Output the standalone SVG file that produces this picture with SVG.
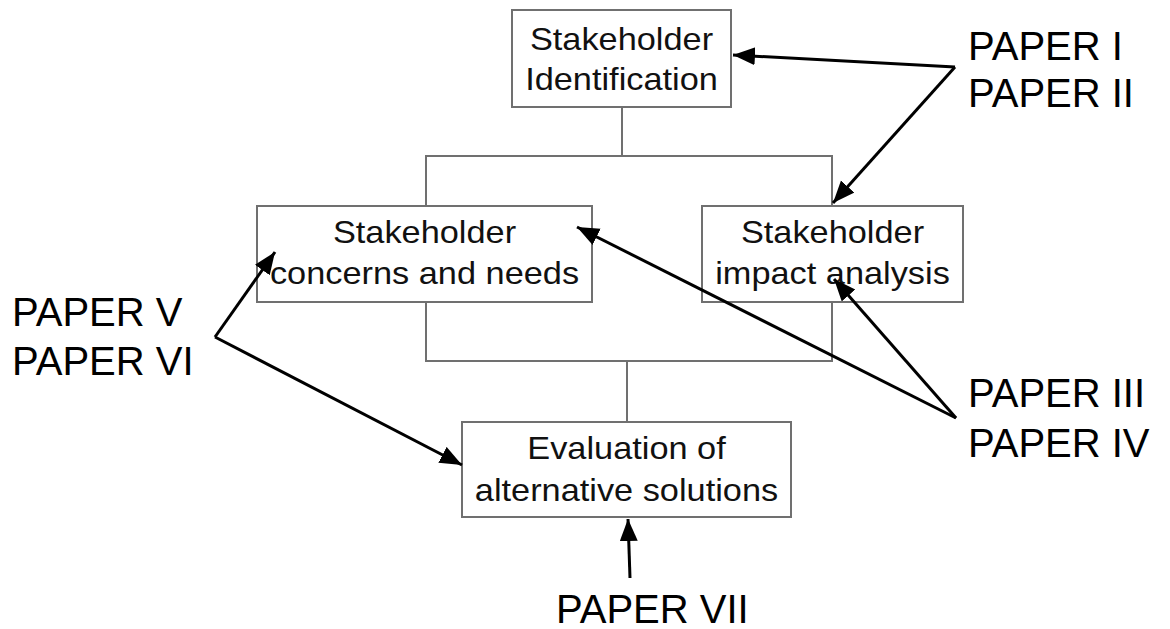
<svg xmlns="http://www.w3.org/2000/svg" width="1170" height="629" viewBox="0 0 1170 629">
<style>
.box{fill:#fff;stroke:#707070;stroke-width:2}
.tree{fill:none;stroke:#707070;stroke-width:2}
.arr{fill:none;stroke:#000;stroke-width:3;marker-end:url(#ah)}
.bt{font-family:"Liberation Sans",Arial,sans-serif;font-size:31.5px;fill:#111;text-anchor:middle}
.pt{font-family:"Liberation Sans",Arial,sans-serif;font-size:40px;fill:#000}
</style>
<defs>
<marker id="ah" markerUnits="userSpaceOnUse" markerWidth="24" markerHeight="20" refX="22" refY="9" orient="auto">
<path d="M0,0 L22,9 L0,18 z" fill="#000"/>
</marker>
</defs>
<rect width="1170" height="629" fill="#fff"/>
<g id="n1">
<rect class="box" x="512" y="10" width="219" height="97"/>
<text class="bt" transform="translate(621.5,0) scale(1.09,1)"><tspan x="0" y="50">Stakeholder</tspan><tspan x="0" y="90">Identification</tspan></text>
</g>
<g id="n2">
<rect class="box" x="257" y="206" width="335" height="96"/>
<text class="bt" transform="translate(424.5,0) scale(1.09,1)"><tspan x="0" y="243">Stakeholder</tspan><tspan x="0" y="284">concerns and needs</tspan></text>
</g>
<g id="n3">
<rect class="box" x="702" y="206" width="261" height="96"/>
<text class="bt" transform="translate(832.5,0) scale(1.09,1)"><tspan x="0" y="243">Stakeholder</tspan><tspan x="0" y="284">impact analysis</tspan></text>
</g>
<g id="n4">
<rect class="box" x="462" y="422" width="329" height="95"/>
<text class="bt" transform="translate(626.5,0) scale(1.09,1)"><tspan x="0" y="459">Evaluation of</tspan><tspan x="0" y="501">alternative solutions</tspan></text>
</g>
<g id="p12">
<text class="pt"><tspan x="968" y="60">PAPER I</tspan><tspan x="968" y="107">PAPER II</tspan></text>
</g>
<g id="p34">
<text class="pt"><tspan x="968" y="407">PAPER III</tspan><tspan x="968" y="457">PAPER IV</tspan></text>
</g>
<g id="p56">
<text class="pt"><tspan x="12" y="326">PAPER V</tspan><tspan x="12" y="375">PAPER VI</tspan></text>
</g>
<g id="p7">
<text class="pt" x="556" y="623">PAPER VII</text>
</g>
<g id="connectors">
<path class="tree" d="M622,107 V156 M426,206 V156 H832 V206"/>
<path class="tree" d="M426,302 V361 H832 V302 M627,361 V422"/>
<line class="arr" x1="955" y1="67" x2="733" y2="55"/>
<line class="arr" x1="955" y1="67" x2="833" y2="203"/>
<line class="arr" x1="956" y1="418" x2="577" y2="227"/>
<line class="arr" x1="956" y1="418" x2="834" y2="279"/>
<line class="arr" x1="215" y1="337" x2="275" y2="252"/>
<line class="arr" x1="215" y1="337" x2="462" y2="465"/>
<line class="arr" x1="630" y1="578" x2="628" y2="519"/>
</g>
</svg>
